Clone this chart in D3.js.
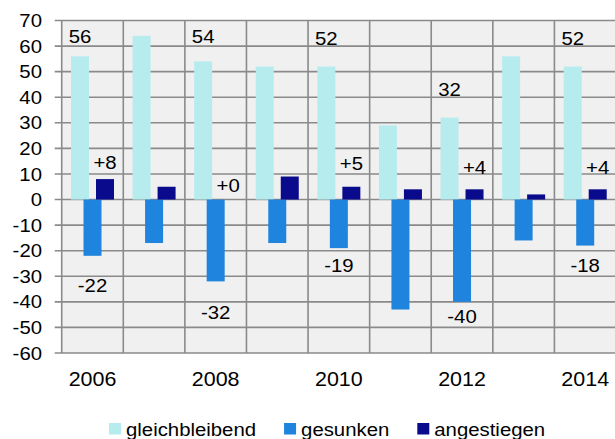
<!DOCTYPE html>
<html>
<head>
<meta charset="utf-8">
<script src="https://cdn.jsdelivr.net/npm/d3@7/dist/d3.min.js"></script>
<style>
  html, body { margin: 0; padding: 0; background: #fff; }
  svg { display: block; }
  text { font-family: "Liberation Sans", Arial, Helvetica, sans-serif; fill: #000; }
</style>
</head>
<body>
<svg id="chart" width="615" height="439"></svg>
<script>
// Data
const years = ["2006", "2007", "2008", "2009", "2010", "2011", "2012", "2013", "2014"];
const seriesNames = ["gleichbleibend", "gesunken", "angestiegen"];
const gleichbleibend = [56, 64, 54, 52, 52, 29, 32, 56, 52];
const gesunken = [-22, -17, -32, -17, -19, -43, -40, -16, -18];
const angestiegen = [8, 5, 0, 9, 5, 4, 4, 2, 4];
const yTicks = [70, 60, 50, 40, 30, 20, 10, 0, -10, -20, -30, -40, -50, -60];
const labelledYears = ["2006", "2008", "2010", "2012", "2014"];

const colors = { gleichbleibend: "#b6ecee", gesunken: "#1f84de", angestiegen: "#0a0a8c" };

const W = 615, H = 439;
const plot = { left: 61.7, right: 616, top: 20.5, bottom: 353 };
const fontSize = 18.5, stretch = 1.1;

const svg = d3.select("#chart");

const x = d3.scaleBand().domain(years).range([plot.left, plot.right]).paddingInner(0).paddingOuter(0);
const xSub = d3.scalePoint().domain(seriesNames).range([x.bandwidth() / 2 - 12.5, x.bandwidth() / 2 + 12.5]);
const barW = 18;
const y = d3.scaleLinear().domain([-60, 70]).range([plot.bottom, plot.top]);

// Plot background
svg.append("rect")
  .attr("x", plot.left).attr("y", plot.top)
  .attr("width", plot.right - plot.left).attr("height", plot.bottom - plot.top)
  .attr("fill", "#f0f0f0");

// Horizontal gridlines with outward ticks
svg.append("g").selectAll("line").data(yTicks).join("line")
  .attr("x1", plot.left - 7).attr("x2", plot.right)
  .attr("y1", d => y(d)).attr("y2", d => y(d))
  .attr("stroke", "#8a8a8a").attr("stroke-width", 1.6);

// Vertical gridlines at category boundaries
svg.append("g").selectAll("line").data(years).join("line")
  .attr("x1", d => x(d)).attr("x2", d => x(d))
  .attr("y1", plot.top).attr("y2", plot.bottom)
  .attr("stroke", "#8a8a8a").attr("stroke-width", 1.6);

// Stretched text helper
function label(g, tx, ty, txt, anchor, size) {
  return g.append("text")
    .attr("transform", `translate(${tx},${ty}) scale(${stretch},1)`)
    .attr("text-anchor", anchor)
    .style("font-size", (size || fontSize) + "px")
    .text(txt);
}

// Y axis labels
const yAxisG = svg.append("g");
yTicks.forEach(t => label(yAxisG, 42, y(t) + 6.6, t, "end"));

// X axis labels
const xAxisG = svg.append("g");
labelledYears.forEach(yr => label(xAxisG, x(yr) + x.bandwidth() / 2, 386, yr, "middle", 19.5));

// Bars
const seriesData = { gleichbleibend, gesunken, angestiegen };
seriesNames.forEach(name => {
  svg.append("g").selectAll("rect").data(seriesData[name]).join("rect")
    .attr("x", (d, i) => x(years[i]) + xSub(name) - barW / 2)
    .attr("y", d => y(Math.max(0, d)))
    .attr("width", barW)
    .attr("height", d => Math.abs(y(d) - y(0)))
    .attr("fill", colors[name]);
});

// Value labels (every second year)
const labelsG = svg.append("g");
const lossNudge = { "2006": 30, "2008": 31, "2010": 17, "2012": 15, "2014": 20 };
const riseNudge = { "2006": -16.5, "2008": -14.5, "2010": -23, "2012": -22.3, "2014": -22.3 };
years.forEach((yr, i) => {
  if (!labelledYears.includes(yr)) return;
  const bx = x(yr);
  // gleichbleibend: above the bar, kept below the top edge
  const gc = Math.max(y(gleichbleibend[i]) - 28, 36.6);
  label(labelsG, bx + xSub("gleichbleibend"), gc + 6.6, gleichbleibend[i], "middle");
  // gesunken: below the bar
  const lc = y(gesunken[i]) + lossNudge[yr];
  label(labelsG, bx + xSub("gesunken"), lc + 6.6, gesunken[i], "middle");
  // angestiegen: above the bar, with sign
  const rc = y(angestiegen[i]) + riseNudge[yr];
  label(labelsG, bx + xSub("angestiegen"), rc + 6.6, "+" + angestiegen[i], "middle");
});

// Legend
const legend = svg.append("g");
let lx = 109;
seriesNames.forEach(name => {
  legend.append("rect")
    .attr("x", lx).attr("y", 423)
    .attr("width", 12).attr("height", 11.5)
    .attr("fill", colors[name]);
  const t = label(legend, lx + 17, 436, name, "start");
  const w = t.node().getComputedTextLength() * stretch;
  lx += 17 + w + 28;
});
</script>
</body>
</html>
